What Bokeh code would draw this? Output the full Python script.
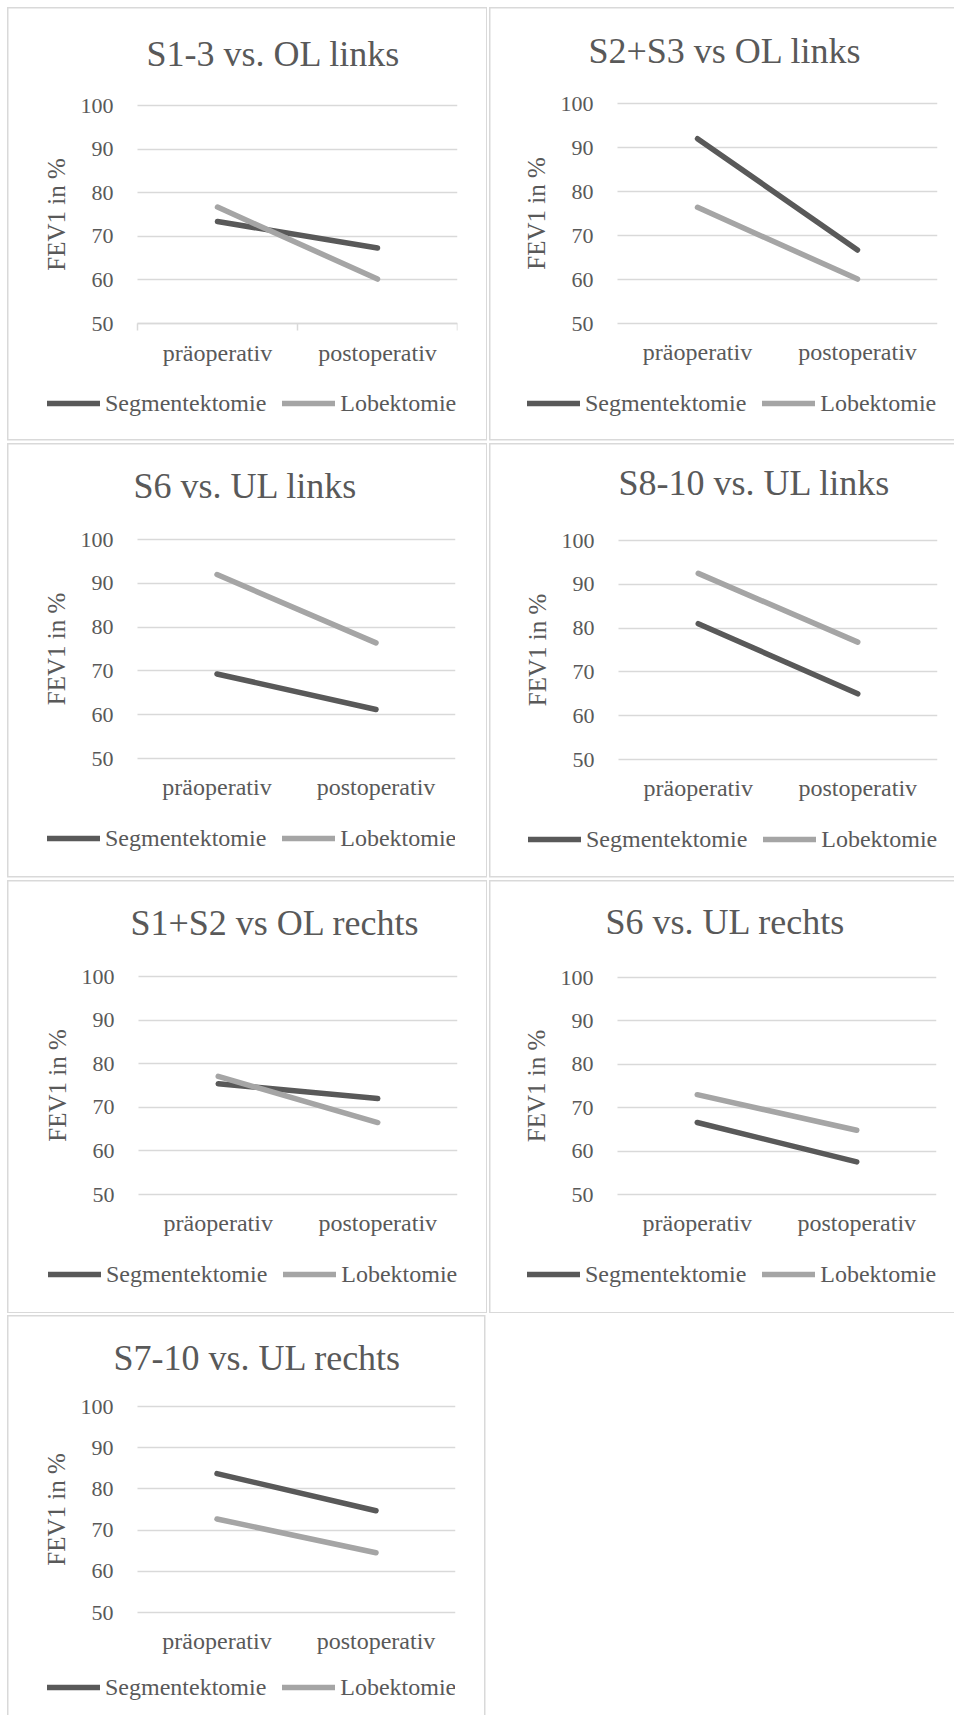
from bokeh.plotting import figure
from bokeh.layouts import column, row
from bokeh.models import Range1d, FixedTicker, Legend, LegendItem, Label, Grid
from bokeh.embed import file_html
from bokeh.resources import INLINE

# ---- data -------------------------------------------------------------
categories = ["präoperativ", "postoperativ"]
series_names = ["Segmentektomie", "Lobektomie"]
titles = [
    "S1-3 vs. OL links",
    "S2+S3 vs OL links",
    "S6 vs. UL links",
    "S8-10 vs. UL links",
    "S1+S2 vs OL rechts",
    "S6 vs. UL rechts",
    "S7-10 vs. UL rechts",
]
seg_pre = [73.4, 92.0, 69.3, 81.0, 75.4, 66.6, 83.7]
seg_post = [67.3, 66.7, 61.2, 65.0, 72.0, 57.5, 74.7]
lob_pre = [76.7, 76.4, 92.0, 92.5, 77.1, 73.0, 72.7]
lob_post = [60.2, 60.1, 76.4, 76.8, 66.5, 64.8, 64.5]
y_ticks = [50, 60, 70, 80, 90, 100]

# ---- styling ------------------------------------------------------------
FONT = "Liberation Serif"
TEXT = "#595959"
GRID = "#d9d9d9"
SERIES_COLORS = ["#595959", "#a5a5a5"]
SERIES_WIDTH = 5.5

# cell sizes of the 2-column grid (pixels)
COL_W = [487, 467]
ROW_H = [441, 437, 435, 402]

# per panel: value-area left/right, y of the 100 and 50 gridlines, title
# left edge and anchor height, panel border (left, top, right, bottom;
# None = off the page), distance from the 50 line down to the legend
panels = [
    dict(fl=137, fr=457, g100=105, g50=323, tl=146, ty=53, box=(7, 7, 486, 439), ticks=True, leg=80),
    dict(fl=130, fr=450, g100=103, g50=323, tl=101, ty=50, box=(1.5, 7, None, 439), ticks=False, leg=80),
    dict(fl=137, fr=455, g100=98, g50=317, tl=133, ty=44, box=(7, 2, 486, 435), ticks=False, leg=80),
    dict(fl=131, fr=450, g100=99, g50=318, tl=131, ty=41, box=(1.5, 2, None, 435), ticks=False, leg=80),
    dict(fl=138, fr=457, g100=98, g50=316, tl=130, ty=44, box=(7, 2, 486, 434), ticks=False, leg=80),
    dict(fl=130, fr=449, g100=99, g50=316, tl=118, ty=43, box=(1.5, 2, None, 434), ticks=False, leg=80),
    dict(fl=137, fr=455, g100=93, g50=299, tl=113, ty=44, box=(7, 2, 484, None), ticks=False, leg=75),
]

X_POS = [0.5, 1.5]
LEG_H = 28
LINE_W = 1.5
FRAME_LEFT = 30     # the plot area reaches out to the axis title and legend
FRAME_TOP = 10
FRAME_BOTTOM = 3
HAS_CROSS_BOUNDS = "cross_bounds" in Grid.properties()


def frame_styles(W, H, box):
    """CSS background lines that draw the thin grey frame around a panel."""
    l, t, r, b = box
    r_ = r if r is not None else W + 5
    b_ = b if b is not None else H + 5
    imgs, sizes, poss = [], [], []

    def add(x, y, w, h):
        imgs.append("linear-gradient(%s, %s)" % (GRID, GRID))
        sizes.append("%.1fpx %.1fpx" % (w, h))
        poss.append("%.1fpx %.1fpx" % (x, y))

    add(l, t, r_ - l, LINE_W)               # top
    if b is not None:
        add(l, b, r_ - l + LINE_W, LINE_W)  # bottom
    add(l, t, LINE_W, b_ - t)               # left
    if r is not None:
        add(r, t, LINE_W, b_ - t)           # right
    return {
        "background-image": ", ".join(imgs),
        "background-size": ", ".join(sizes),
        "background-position": ", ".join(poss),
        "background-repeat": "no-repeat",
    }


def make_panel(i):
    cfg = panels[i]
    col = i % 2
    rw = i // 2
    W, H = COL_W[col], ROW_H[rw]

    # vertical scale: 50..100 between the two gridline positions
    ppu = (cfg["g50"] - cfg["g100"]) / 50.0
    fb = H - FRAME_BOTTOM
    y_end = 100 + (cfg["g100"] - FRAME_TOP) / ppu
    y_start = y_end - (fb - FRAME_TOP) / ppu

    # horizontal scale: two categories between fl and fr
    fr = int(round(cfg["fr"]))
    ppx = (fr - cfg["fl"]) / 2.0
    x_start = -(cfg["fl"] - FRAME_LEFT) / ppx

    p = figure(
        width=W, height=H,
        x_range=Range1d(x_start, 2),
        y_range=Range1d(y_start, y_end),
        output_backend="svg", toolbar_location=None, tools="",
        min_border_left=FRAME_LEFT,
        min_border_right=W - fr,
        min_border_top=FRAME_TOP,
        min_border_bottom=FRAME_BOTTOM,
        background_fill_color=None, border_fill_color=None,
        outline_line_color=None,
        styles=frame_styles(W, H, cfg["box"]),
    )

    # chart title
    p.add_layout(Label(
        x=(cfg["tl"] - cfg["fl"]) / ppx,
        y=y_end - (cfg["ty"] - FRAME_TOP) / ppu,
        text=titles[i], text_align="left", text_baseline="alphabetic",
        text_font=FONT, text_font_size="36px", text_color=TEXT,
    ))

    # horizontal gridlines across the value area only
    p.xgrid.grid_line_color = None
    if HAS_CROSS_BOUNDS:
        p.ygrid.grid_line_color = GRID
        p.ygrid.grid_line_width = 1.5
        p.ygrid.cross_bounds = (0, 2)
    else:
        p.ygrid.grid_line_color = None
        p.segment(x0=0, x1=2, y0=y_ticks, y1=y_ticks,
                  line_color=GRID, line_width=1.5, level="underlay")

    # y axis, pinned to the left edge of the value area
    p.yaxis.fixed_location = 0
    p.yaxis.bounds = (50, 100)
    p.yaxis.ticker = FixedTicker(ticks=y_ticks)
    p.yaxis.axis_label = "FEV1 in %"
    p.yaxis.axis_label_text_font = FONT
    p.yaxis.axis_label_text_font_size = "25px"
    p.yaxis.axis_label_text_font_style = "normal"
    p.yaxis.axis_label_text_color = TEXT
    p.yaxis.axis_label_standoff = 8
    p.yaxis.major_label_text_font = FONT
    p.yaxis.major_label_text_font_size = "22px"
    p.yaxis.major_label_text_color = TEXT
    p.yaxis.major_label_standoff = 18
    p.yaxis.axis_line_color = None
    p.yaxis.major_tick_line_color = None
    p.yaxis.minor_tick_line_color = None

    # x axis on the 50 line: labels at category centres, ticks at boundaries
    p.xaxis.fixed_location = 50
    p.xaxis.bounds = (0, 2)
    p.xaxis.ticker = FixedTicker(ticks=X_POS, minor_ticks=[0, 1, 2])
    p.xaxis.major_label_overrides = {x: c for x, c in zip(X_POS, categories)}
    p.xaxis.major_label_text_font = FONT
    p.xaxis.major_label_text_font_size = "24px"
    p.xaxis.major_label_text_color = TEXT
    p.xaxis.major_label_standoff = 9
    p.xaxis.major_tick_line_color = None
    if cfg["ticks"]:
        p.xaxis.axis_line_color = GRID
        p.xaxis.axis_line_width = 1.5
        p.xaxis.minor_tick_line_color = GRID
        p.xaxis.minor_tick_line_width = 1.5
        p.xaxis.minor_tick_in = 0
        p.xaxis.minor_tick_out = 7
    else:
        p.xaxis.axis_line_color = None
        p.xaxis.minor_tick_line_color = None

    # series
    r_seg = p.line(X_POS, [seg_pre[i], seg_post[i]], line_width=SERIES_WIDTH,
                   line_color=SERIES_COLORS[0], line_cap="round")
    r_lob = p.line(X_POS, [lob_pre[i], lob_post[i]], line_width=SERIES_WIDTH,
                   line_color=SERIES_COLORS[1], line_cap="round")

    # legend under the category labels
    centre = cfg["g50"] + cfg["leg"]
    leg_bottom = fb - (centre + LEG_H / 2.0)
    legend = Legend(
        items=[LegendItem(label=series_names[0], renderers=[r_seg]),
               LegendItem(label=series_names[1], renderers=[r_lob])],
        location=(cfg["fl"] - 90 - FRAME_LEFT, leg_bottom),
        orientation="horizontal",
        glyph_width=53, glyph_height=LEG_H, label_height=LEG_H,
        label_standoff=5, spacing=16, padding=0, margin=0,
        border_line_color=None, background_fill_alpha=0,
        label_text_font=FONT, label_text_font_size="24px",
        label_text_color=TEXT,
    )
    p.add_layout(legend, "center")
    return p


figs = [make_panel(i) for i in range(len(titles))]
layout = column(
    row(figs[0], figs[1]),
    row(figs[2], figs[3]),
    row(figs[4], figs[5]),
    row(figs[6]),
)

open("out.html", "w").write(file_html(layout, INLINE))
